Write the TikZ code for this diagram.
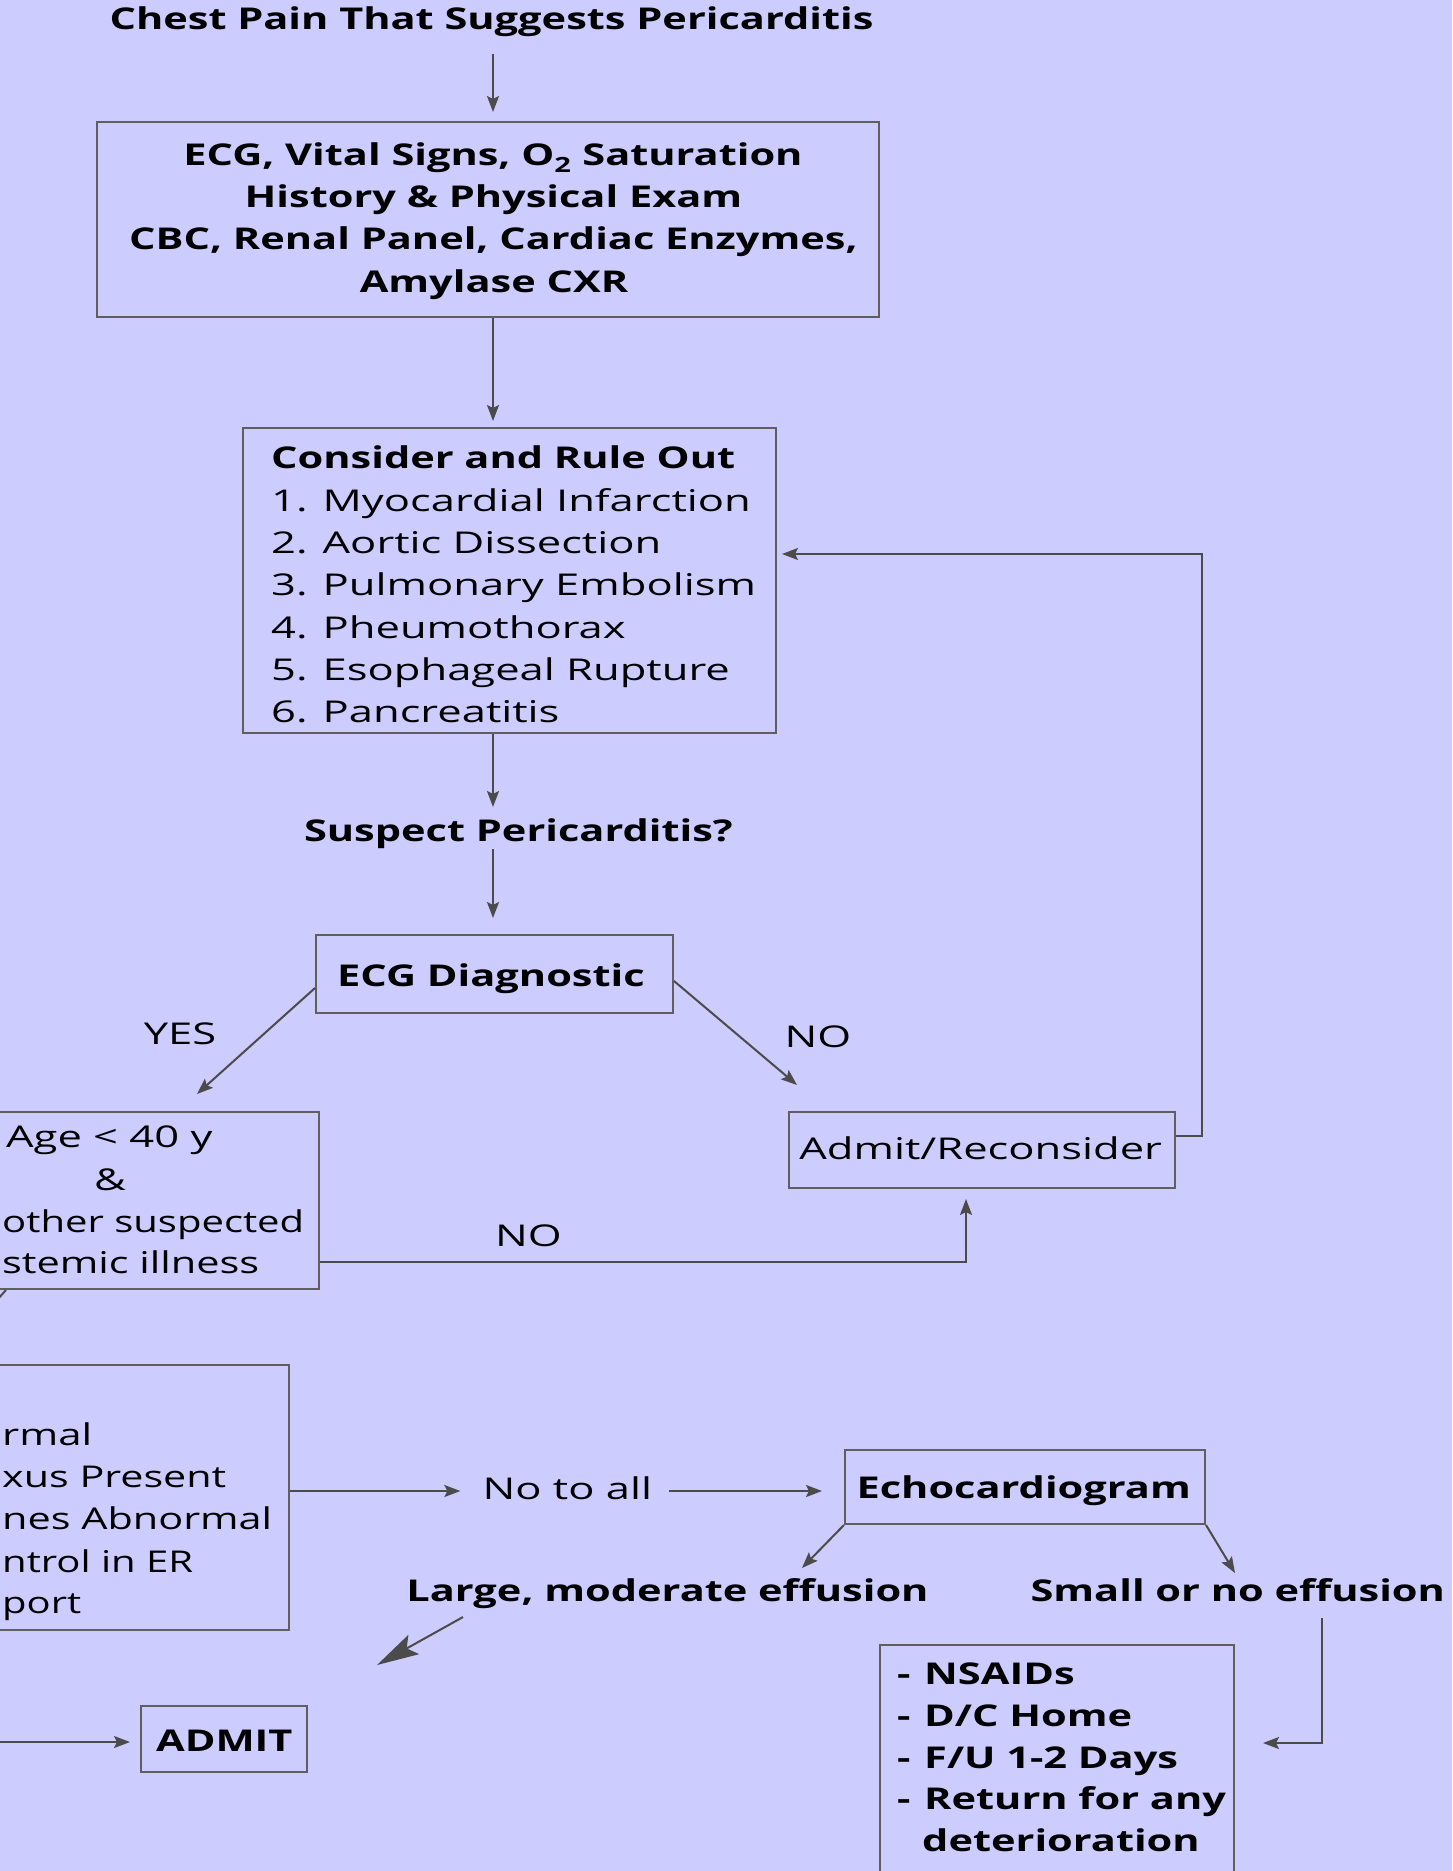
\documentclass[tikz,border=0pt]{standalone}
\usepackage{graphicx}
\usepackage{fontspec}
\setmainfont{Open Sans}
\newfontfamily\regf{Open Sans}[FakeStretch=1.45]
\newfontfamily\boldf{Open Sans}[FakeStretch=1.385]
\usetikzlibrary{arrows.meta,calc}
\definecolor{bg}{RGB}{204,204,255}
\definecolor{ln}{RGB}{75,75,75}
\definecolor{bx}{RGB}{95,95,95}
\newcommand{\fitw}[2]{\resizebox{#1pt}{\height}{#2}}
\begin{document}
\begin{tikzpicture}[x=1pt,y=-1pt,
  fs/.style={font=\fontsize{30}{42.3}\regf},
  fb/.style={font=\fontsize{30}{42.3}\boldf\bfseries},
  txt/.style={inner sep=0pt,text=black,anchor=base},
  box/.style={draw=bx,line width=2pt,rectangle,inner sep=0pt},
  arr/.style={draw=ln,line width=2pt,-{Stealth[length=16pt,width=12pt,inset=3pt]}},
  bigarr/.style={draw=ln,line width=2pt,-{Stealth[length=42pt,width=22pt,inset=8pt]}},
  plain/.style={draw=ln,line width=2pt}]
\fill[bg] (0,0) rectangle (1452,1871);
\useasboundingbox (0,0) rectangle (1452,1871);
\coordinate (cx) at (493,0);
\coordinate (bigend) at (377,1665);
\coordinate (admsrc) at (0,1742);
% boxes
\node[box,minimum width=782pt,minimum height=195pt] (box1) at (488,219.5) {};
\node[box,minimum width=533pt,minimum height=305pt] (box2) at (509.5,580.5) {};
\node[box,minimum width=357pt,minimum height=78pt] (ecg) at (494.5,974) {};
\node[box,minimum width=386pt,minimum height=76pt] (adm) at (982,1150) {};
\node[box,minimum width=379pt,minimum height=177pt] (age) at (129.5,1200.5) {};
\node[box,minimum width=389pt,minimum height=265pt] (lb) at (94.5,1497.5) {};
\node[box,minimum width=360pt,minimum height=74pt] (echo) at (1025,1487) {};
\node[box,minimum width=166pt,minimum height=66pt] (admit) at (224,1739) {};
\node[box,minimum width=354pt,minimum height=245pt] (nsaid) at (1057,1767.5) {};
% texts
\node[txt,fb] (title) at (491.5,29.8) {Chest Pain That Suggests Pericarditis};
\node[txt,fb] (b1a) at (493,165.8) {ECG, Vital Signs, O\textsubscript{2} Saturation};
\node[txt,fb] (b1b) at (493.5,207.6) {History \& Physical Exam};
\node[txt,fb] (b1c) at (493.5,249.3) {CBC, Renal Panel, Cardiac Enzymes,};
\node[txt,fb] (b1d) at (494,292.3) {Amylase CXR};
\node[txt,fb,anchor=base west] (b2h) at (271,468.8) {Consider and Rule Out};
\node[txt,fs,anchor=base west] (b2a) at (271,511.2) {1. Myocardial Infarction};
\node[txt,fs,anchor=base west] (b2b) at (271,553.5) {2. Aortic Dissection};
\node[txt,fs,anchor=base west] (b2c) at (271,595.9) {3. Pulmonary Embolism};
\node[txt,fs,anchor=base west] (b2d) at (271,638.2) {4. Pheumothorax};
\node[txt,fs,anchor=base west] (b2e) at (271,680.6) {5. Esophageal Rupture};
\node[txt,fs,anchor=base west] (b2f) at (271,722.9) {6. Pancreatitis};
\node[txt,fb] (susp) at (518.4,841) {Suspect Pericarditis?};
\node[txt,fb] (ecgt) at (491,986.6) {ECG Diagnostic};
\node[txt,fs] (yes) at (180,1044) {YES};
\node[txt,fs] (no1) at (818,1047.5) {NO};
\node[txt,fs] (admt) at (980.7,1159.6) {Admit/Reconsider};
\node[txt,fs,anchor=base west] (age1) at (6,1147) {Age < 40 y};
\node[txt,fs] (age2) at (110,1190) {\&};
\node[txt,fs,anchor=base west] (age3) at (2,1232) {\fitw{302}{other suspected}};
\node[txt,fs,anchor=base west] (age4) at (2,1273) {\fitw{257}{stemic illness}};
\node[txt,fs] (no2) at (528.5,1246.7) {NO};
\node[txt,fs,anchor=base west] (lb1) at (2,1445) {\fitw{90}{rmal}};
\node[txt,fs,anchor=base west] (lb2) at (2,1487) {\fitw{224}{xus Present}};
\node[txt,fs,anchor=base west] (lb3) at (2,1529) {\fitw{270}{nes Abnormal}};
\node[txt,fs,anchor=base west] (lb4) at (2,1572) {\fitw{191}{ntrol in ER}};
\node[txt,fs,anchor=base west] (lb5) at (2,1613) {\fitw{79}{port}};
\node[txt,fs] (noall) at (567.3,1499.6) {No to all};
\node[txt,fb] (echot) at (1023.7,1498.4) {Echocardiogram};
\node[txt,fb] (large) at (667.5,1601) {Large, moderate effusion};
\node[txt,fb] (small) at (1237.8,1601) {Small or no effusion};
\node[txt,fb] (admitt) at (224.3,1751.4) {ADMIT};
\node[txt,fb,anchor=base west] (ns1) at (897,1684.6) {\makebox[27pt][l]{-}NSAIDs};
\node[txt,fb,anchor=base west] (ns2) at (897,1726.4) {\makebox[27pt][l]{-}D/C Home};
\node[txt,fb,anchor=base west] (ns3) at (897,1768.1) {\makebox[27pt][l]{-}F/U 1-2 Days};
\node[txt,fb,anchor=base west] (ns4) at (897,1809.9) {\makebox[27pt][l]{-}Return for any};
\node[txt,fb,anchor=base west] (ns5) at (922,1851.6) {deterioration};
% connectors
\coordinate (lbout) at ([yshift=6.5pt]lb.east);
\draw[arr,shorten >=9pt] ([yshift=-24.2pt]title.base -| cx) -- (box1.north -| cx);
\draw[arr,shorten >=6pt] (box1.south -| cx) -- (box2.north -| cx);
\draw[arr] (box2.south -| cx) -- ([yshift=34pt]susp.base -| cx);
\draw[arr,shorten >=16pt] ([yshift=-8pt]susp.base -| cx) -- (ecg.north -| cx);
\draw[arr] ([yshift=-14pt]ecg.west) -- ([xshift=67.5pt,yshift=17pt]age.north);
\draw[arr] ([yshift=-7pt]ecg.east) -- ([xshift=-185pt,yshift=26pt]adm.north);
\draw[arr] ([yshift=14pt]adm.east) -- ++(26,0) |- ([xshift=5pt,yshift=26.5pt]box2.east);
\draw[arr] ([yshift=-61.5pt]age.east) -| ([xshift=-16pt,yshift=-10pt]adm.south);
\draw[plain] ([xshift=-123.5pt]age.south) -- ++(-8,9);
\draw[arr,shorten >=22pt] (lbout) -- (lbout -| noall.west);
\draw[arr,shorten <=17pt,shorten >=22pt] (lbout -| noall.east) -- (lbout -| echo.west);
\draw[arr] (echo.south west) -- ([xshift=134.5pt,yshift=33pt]large.base);
\draw[arr] (echo.south east) -- ([xshift=-2.8pt,yshift=28pt]small.base);
\draw[bigarr] ([xshift=-204.5pt,yshift=-16pt]large.base) -- (bigend);
\draw[arr,shorten >=10pt] (admsrc) -- (admsrc -| admit.west);
\draw[arr] ([xshift=84.2pt,yshift=-17pt]small.base) |- ([xshift=28pt,yshift=24.5pt]nsaid.east);
\end{tikzpicture}
\end{document}
